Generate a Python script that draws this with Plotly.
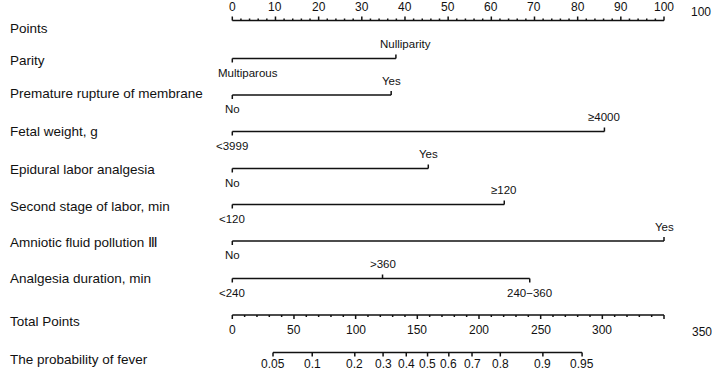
import numpy as np
import plotly.graph_objects as go

# ---------------- data ----------------
row_labels = ["Parity", "Premature rupture of membrane", "Fetal weight, g",
              "Epidural labor analgesia", "Second stage of labor, min",
              "Amniotic fluid pollution Ⅲ", "Analgesia duration, min"]
# level names, point values and whether label sits above (1) or below (0)
row_levels = [["Multiparous", "Nulliparity"],
              ["No", "Yes"],
              ["<3999", "≥4000"],
              ["No", "Yes"],
              ["<120", "≥120"],
              ["No", "Yes"],
              ["<240", ">360", "240−360"]]
row_points = [[0, 37.9],
              [0, 36.8],
              [0, 86.2],
              [0, 45.4],
              [0, 63.0],
              [0, 100],
              [0, 34.8, 68.9]]
row_above = [[0, 1], [0, 1], [0, 1], [0, 1], [0, 1], [0, 1], [0, 1, 0]]

points_ticks = list(range(0, 101, 10))
points_minor = list(range(0, 101, 2))
total_ticks = list(range(0, 351, 50))
total_minor = list(range(0, 351, 10))
total_max = 350
prob_ticks = [0.05, 0.1, 0.2, 0.3, 0.4, 0.5, 0.6, 0.7, 0.8, 0.9, 0.95]
prob_labels = ["0.05", "0.1", "0.2", "0.3", "0.4", "0.5", "0.6", "0.7", "0.8", "0.9", "0.95"]
# logistic model linking total points to probability
model_t50 = 158.3
model_slope = 0.0235

# ---------------- layout geometry (pixels) ----------------
W, H = 712, 370
X0PX, PPX = 232.3, 4.317          # pixel of 0 points, pixels per point
xr = [-X0PX / PPX, (W - X0PX) / PPX]
row_y = [58.5, 95, 131.5, 168.5, 204.5, 241, 278.5]
label_y = [60, 93, 131, 169, 206, 242, 278]
POINTS_Y, TOTAL_Y, PROB_Y = 20.5, 315, 352.5
INK = "#111111"
FONT = "Liberation Sans, Arial, Helvetica, sans-serif"

fig = go.Figure()
segx, segy = [], []


def seg(x0, y0, x1, y1):
    segx.extend([x0, x1, None])
    segy.extend([y0, y1, None])


annos = []


def txt(x, y, s, size=12, xref="x", anchor="center", xshift=0):
    annos.append(dict(x=x, y=y, xref=xref, yref="y", text=s, showarrow=False,
                      xanchor=anchor, yanchor="middle", xshift=xshift,
                      font=dict(family=FONT, size=size, color=INK)))


# Points axis (ticks up)
seg(0, POINTS_Y, 100, POINTS_Y)
for v in points_minor:
    seg(v, POINTS_Y, v, POINTS_Y - (4 if v in points_ticks else 2))
for v in points_ticks:
    txt(v, 7, str(v))
txt(108.5, 11.5, "100")

# variable rows
label_shift = {("Parity", "Multiparous"): 16, ("Parity", "Nulliparity"): 10}
for name, y, levs, pts, ab in zip(row_labels, row_y, row_levels, row_points, row_above):
    seg(min(pts), y, max(pts), y)
    for lv, p, a in zip(levs, pts, ab):
        if a:
            seg(p, y, p, y - 4)
            txt(p, y - 14.5, lv, size=11.5, xshift=label_shift.get((name, lv), 0))
        else:
            seg(p, y, p, y + 4)
            txt(p, y + 14, lv, size=11.5, xshift=label_shift.get((name, lv), 0))

# Total points axis (ticks down)
to_pts = 100.0 / total_max
seg(0, TOTAL_Y, total_max * to_pts, TOTAL_Y)
for v in total_minor:
    seg(v * to_pts, TOTAL_Y, v * to_pts, TOTAL_Y + (4 if v in total_ticks else 2))
for v in total_ticks[:-1]:
    txt(v * to_pts, 330, str(v))
txt(108.9, 332, "350")

# probability axis
prob_arr = np.array(prob_ticks)
prob_total = model_t50 + np.log(prob_arr / (1 - prob_arr)) / model_slope
prob_x = prob_total * to_pts
seg(prob_x.min(), PROB_Y, prob_x.max(), PROB_Y)
for x, lab in zip(prob_x, prob_labels):
    seg(x, PROB_Y, x, PROB_Y + 4)
    txt(x, 363.5, lab)

# left-hand labels
left_names = ["Points"] + row_labels + ["Total Points", "The probability of fever"]
left_y = [28] + label_y + [321, 359]
for s, y in zip(left_names, left_y):
    txt(8 / W, y, s, size=13.5, xref="paper", anchor="left")

fig.add_trace(go.Scatter(x=segx, y=segy, mode="lines",
                         line=dict(color=INK, width=1.5), hoverinfo="skip",
                         showlegend=False))

fig.update_layout(
    width=W, height=H, margin=dict(l=0, r=0, t=0, b=0),
    paper_bgcolor="white", plot_bgcolor="white",
    xaxis=dict(range=xr, visible=False, fixedrange=True),
    yaxis=dict(range=[H, 0], visible=False, fixedrange=True),
    annotations=annos, showlegend=False,
)
fig.write_html("out.html", config={"displayModeBar": False},
               post_script="document.body.style.margin='0px';document.body.style.overflow='hidden';")
